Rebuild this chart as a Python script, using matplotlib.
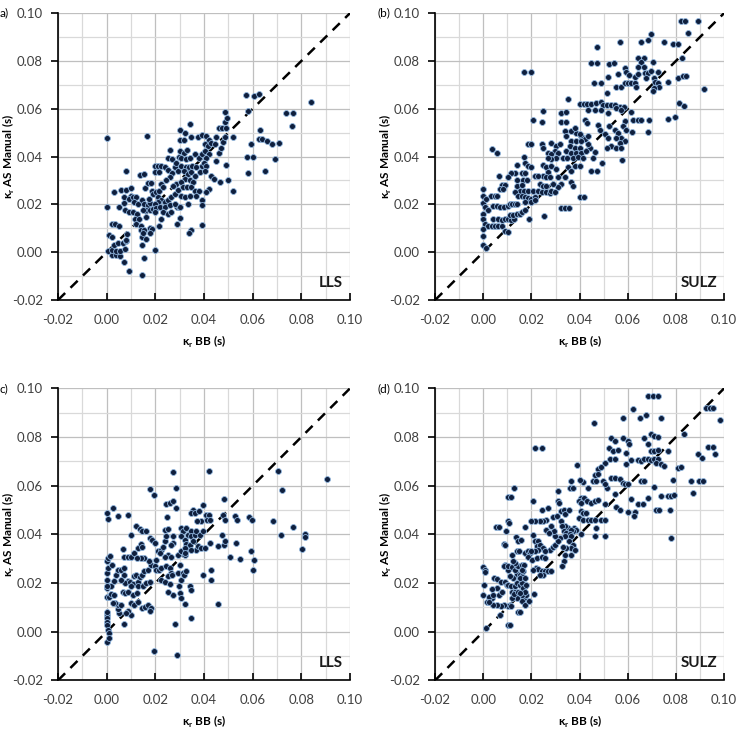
import matplotlib.pyplot as plt
from matplotlib.ticker import MultipleLocator

# kappa_r values: (BB, AS manual), seconds
lls_a = [
    (0.002, -0.001), (0.004, -0.001), (0.0056, -0.0014), (0.0073, -0.004), (0.009, -0.008),
    (0.0004, 0.0003), (0.002, 0.001), (0.004, 0.0006), (0.0055, 0.0007), (0.0076, 0.0012),
    (0.003, 0.003), (0.0045, 0.004), (0.0066, 0.004), (0.008, 0.0045), (0.0008, 0.0072),
    (0.0022, 0.0065), (0.002, 0.0117), (0.0036, 0.0117), (0.0052, 0.011), (0.0082, 0.0075),
    (0.008, 0.005), (0.0, 0.019), (0.0052, 0.0189), (0.0073, 0.0207), (0.0077, 0.0178),
    (0.0093, 0.0168), (0.003, 0.025), (0.006, 0.026), (0.008, 0.026), (0.007, 0.023),
    (0.0098, 0.0237), (0.009, 0.0224), (0.010, 0.027), (0.008, 0.034), (0.0, 0.0476),
    (0.011, 0.0233), (0.0121, 0.023), (0.0114, 0.021), (0.0128, 0.0203), (0.011, 0.0168),
    (0.0125, 0.016), (0.0117, 0.014), (0.0132, 0.0137), (0.012, 0.012), (0.0139, 0.011),
    (0.014, 0.0095), (0.0155, 0.0092), (0.0146, 0.0065), (0.016, 0.0055), (0.015, 0.0079),
    (0.0176, 0.01), (0.0187, 0.0097), (0.018, 0.008), (0.0144, 0.003), (0.0155, -0.0025),
    (0.0144, -0.0094), (0.0197, 0.001), (0.0138, 0.0324), (0.0153, 0.0327), (0.0158, 0.027),
    (0.017, 0.029), (0.0144, 0.0217), (0.0155, 0.0203), (0.017, 0.0196), (0.018, 0.0206),
    (0.016, 0.0175), (0.0176, 0.0175), (0.019, 0.018), (0.0149, 0.0178), (0.016, 0.0148),
    (0.0186, 0.0258), (0.0192, 0.0244), (0.0166, 0.0486), (0.0183, 0.0288), (0.0173, 0.0224),
    (0.0197, 0.036), (0.021, 0.036), (0.0224, 0.036), (0.0238, 0.0357), (0.0197, 0.0334),
    (0.0217, 0.0334), (0.025, 0.0396), (0.026, 0.0426), (0.0268, 0.0389), (0.025, 0.0344),
    (0.0268, 0.033), (0.026, 0.0313), (0.0245, 0.030), (0.0224, 0.0286), (0.0204, 0.0251),
    (0.0217, 0.0258), (0.023, 0.0272), (0.021, 0.023), (0.0224, 0.022), (0.0238, 0.021),
    (0.025, 0.022), (0.021, 0.021), (0.0197, 0.0203), (0.0204, 0.0186), (0.0221, 0.0189),
    (0.0238, 0.0189), (0.026, 0.0196), (0.02, 0.0168), (0.023, 0.0168), (0.025, 0.016),
    (0.0265, 0.0168), (0.0224, 0.014), (0.0213, 0.011), (0.0265, 0.023), (0.028, 0.0244),
    (0.0286, 0.0286), (0.0293, 0.026), (0.0272, 0.0279), (0.028, 0.0355), (0.0293, 0.034),
    (0.0286, 0.0375), (0.0296, 0.040), (0.0289, 0.0189), (0.0296, 0.0189), (0.028, 0.0203),
    (0.030, 0.051), (0.032, 0.050), (0.030, 0.047), (0.0318, 0.0468), (0.030, 0.0424),
    (0.0318, 0.0417), (0.0331, 0.0426), (0.0307, 0.0396), (0.0327, 0.0389), (0.0341, 0.0396),
    (0.0362, 0.041), (0.0378, 0.0396), (0.039, 0.041), (0.0307, 0.036), (0.0324, 0.0355),
    (0.0338, 0.0355), (0.0352, 0.036), (0.0368, 0.0355), (0.039, 0.0359), (0.0318, 0.034),
    (0.0334, 0.0327), (0.0348, 0.0334), (0.0362, 0.032), (0.0382, 0.0334), (0.032, 0.0306),
    (0.0341, 0.030), (0.0355, 0.0293), (0.0307, 0.0293), (0.0313, 0.0272), (0.033, 0.0272),
    (0.0348, 0.0272), (0.0362, 0.0258), (0.0378, 0.0258), (0.0304, 0.0237), (0.032, 0.023),
    (0.0341, 0.0237), (0.0334, 0.0203), (0.030, 0.0189), (0.0368, 0.0237), (0.039, 0.0217),
    (0.0393, 0.0196), (0.039, 0.0113), (0.0345, 0.0092), (0.034, 0.0079), (0.030, 0.0144),
    (0.029, 0.0117), (0.0375, 0.048), (0.0345, 0.048), (0.039, 0.049), (0.0342, 0.0537),
    (0.041, 0.0485), (0.042, 0.047), (0.0403, 0.0454), (0.0417, 0.0444), (0.043, 0.0458),
    (0.0444, 0.0454), (0.0403, 0.0424), (0.042, 0.041), (0.041, 0.0396), (0.040, 0.0375),
    (0.041, 0.036), (0.0403, 0.034), (0.045, 0.048), (0.046, 0.052), (0.0475, 0.052),
    (0.049, 0.052), (0.0488, 0.0545), (0.0496, 0.0562), (0.0488, 0.0587), (0.046, 0.0414),
    (0.045, 0.038), (0.049, 0.0366), (0.047, 0.0437), (0.048, 0.046), (0.0485, 0.048),
    (0.043, 0.032), (0.044, 0.0306), (0.042, 0.0265), (0.041, 0.025), (0.0467, 0.0295),
    (0.050, 0.030), (0.052, 0.048), (0.052, 0.0254), (0.0572, 0.0658), (0.0606, 0.0655),
    (0.0624, 0.066), (0.058, 0.059), (0.0839, 0.0628), (0.0736, 0.0582), (0.0766, 0.0582),
    (0.076, 0.053), (0.063, 0.051), (0.0625, 0.0475), (0.064, 0.0475), (0.066, 0.0467),
    (0.068, 0.0454), (0.071, 0.0457), (0.0595, 0.0454), (0.06, 0.040), (0.0575, 0.040),
    (0.069, 0.039), (0.065, 0.034), (0.058, 0.033),
]

sulz_b = [
    (0.0821, 0.0969), (0.0838, 0.0969), (0.089, 0.0969), (0.0849, 0.0918), (0.0697, 0.0914),
    (0.0566, 0.088), (0.0656, 0.088), (0.0683, 0.0886), (0.0752, 0.088), (0.0787, 0.087),
    (0.0807, 0.087), (0.0473, 0.0858), (0.0642, 0.0813), (0.0667, 0.0813), (0.0824, 0.0813),
    (0.0653, 0.0796), (0.0449, 0.0793), (0.0473, 0.0793), (0.0524, 0.0787), (0.0542, 0.0793),
    (0.0587, 0.0771), (0.0642, 0.0776), (0.0669, 0.0776), (0.0704, 0.0796), (0.017, 0.0755),
    (0.0197, 0.0755), (0.0593, 0.0755), (0.0607, 0.0741), (0.0559, 0.0744), (0.0518, 0.0731),
    (0.067, 0.0748), (0.0683, 0.0748), (0.0697, 0.0758), (0.0725, 0.0755), (0.0628, 0.0734),
    (0.0642, 0.0744), (0.0676, 0.0727), (0.0711, 0.0727), (0.0807, 0.073), (0.0828, 0.0738),
    (0.0842, 0.0738), (0.0766, 0.0711), (0.0915, 0.0682), (0.0714, 0.0713), (0.0725, 0.0707),
    (0.0731, 0.0693), (0.0711, 0.0686), (0.0704, 0.0676), (0.0552, 0.0693), (0.0573, 0.0693),
    (0.0587, 0.0707), (0.06, 0.0707), (0.0614, 0.0707), (0.0628, 0.0707), (0.0635, 0.0693),
    (0.046, 0.0707), (0.0487, 0.0707), (0.0515, 0.0665), (0.0352, 0.0642), (0.0248, 0.0592),
    (0.0207, 0.0552), (0.0244, 0.0545), (0.0324, 0.0582), (0.0345, 0.0585), (0.0324, 0.0545),
    (0.0345, 0.0545), (0.040, 0.062), (0.0418, 0.062), (0.0432, 0.062), (0.0449, 0.062),
    (0.047, 0.0624), (0.0487, 0.0628), (0.0497, 0.0617), (0.0515, 0.0614), (0.0531, 0.0614),
    (0.0548, 0.0614), (0.0566, 0.0607), (0.0584, 0.0607), (0.0614, 0.0585), (0.0435, 0.0593),
    (0.0462, 0.0593), (0.049, 0.0593), (0.0518, 0.0582), (0.0552, 0.0603), (0.0573, 0.0596),
    (0.0587, 0.0548), (0.0621, 0.0555), (0.0642, 0.0555), (0.0656, 0.0555), (0.069, 0.0555),
    (0.0766, 0.0559), (0.0796, 0.0564), (0.0814, 0.0624), (0.0835, 0.061), (0.0421, 0.0555),
    (0.0432, 0.0541), (0.0476, 0.0534), (0.0483, 0.0513), (0.0504, 0.0493), (0.0518, 0.0479),
    (0.0524, 0.0527), (0.0545, 0.0513), (0.0559, 0.05), (0.058, 0.0527), (0.0593, 0.0513),
    (0.0573, 0.0479), (0.0587, 0.0465), (0.0552, 0.0479), (0.0566, 0.0458), (0.0531, 0.0444),
    (0.0552, 0.0437), (0.0573, 0.0437), (0.0515, 0.0437), (0.0618, 0.0502), (0.0683, 0.0502),
    (0.0575, 0.0386), (0.0493, 0.0373), (0.0449, 0.0341), (0.0473, 0.0341), (0.0455, 0.0396),
    (0.0462, 0.0421), (0.0442, 0.0437), (0.0435, 0.0451), (0.0407, 0.0486), (0.0421, 0.0472),
    (0.0435, 0.0486), (0.0386, 0.05), (0.04, 0.0493), (0.0366, 0.0506), (0.038, 0.052),
    (0.0338, 0.0506), (0.0345, 0.0486), (0.0366, 0.0465), (0.0386, 0.0465), (0.0407, 0.0465),
    (0.0359, 0.0444), (0.038, 0.0437), (0.04, 0.0437), (0.0345, 0.0424), (0.0366, 0.0417),
    (0.0386, 0.0417), (0.0407, 0.0417), (0.0428, 0.0424), (0.0331, 0.0396), (0.0349, 0.0396),
    (0.0373, 0.0396), (0.0393, 0.0399), (0.0414, 0.0396), (0.038, 0.0362), (0.04, 0.0362),
    (0.0352, 0.0355), (0.0366, 0.0341), (0.0338, 0.0313), (0.0366, 0.0293), (0.0373, 0.0279),
    (0.0324, 0.0286), (0.031, 0.0272), (0.040, 0.023), (0.0418, 0.023), (0.0324, 0.0185),
    (0.0338, 0.0185), (0.0355, 0.0185), (0.0253, 0.0152), (0.019, 0.0141), (0.0283, 0.0458),
    (0.0304, 0.0444), (0.0317, 0.0451), (0.0297, 0.0424), (0.031, 0.0417), (0.0269, 0.0417),
    (0.0283, 0.041), (0.0304, 0.0396), (0.0283, 0.0389), (0.0269, 0.0396), (0.0242, 0.0451),
    (0.0248, 0.0437), (0.0186, 0.0454), (0.02, 0.0454), (0.017, 0.040), (0.0173, 0.0375),
    (0.0186, 0.0362), (0.0197, 0.0357), (0.0138, 0.0364), (0.0248, 0.0366), (0.0262, 0.0355),
    (0.0283, 0.0362), (0.03, 0.0348), (0.0269, 0.0334), (0.0248, 0.032), (0.0262, 0.0313),
    (0.0276, 0.0313), (0.0214, 0.032), (0.0228, 0.032), (0.0159, 0.033), (0.0173, 0.033),
    (0.0131, 0.033), (0.0117, 0.033), (0.0104, 0.0313), (0.0065, 0.032), (0.0035, 0.043),
    (0.0055, 0.0413), (0.0079, 0.0283), (0.009, 0.0283), (0.0069, 0.0265), (0.0083, 0.0265),
    (0.0138, 0.0302), (0.0166, 0.0302), (0.018, 0.0302), (0.0142, 0.0279), (0.0159, 0.0283),
    (0.0152, 0.0258), (0.017, 0.0258), (0.0186, 0.0258), (0.0131, 0.0251), (0.0145, 0.0237),
    (0.0161, 0.0237), (0.0173, 0.023), (0.0186, 0.0228), (0.02, 0.0224), (0.0214, 0.023),
    (0.0173, 0.021), (0.02, 0.021), (0.0214, 0.0217), (0.0207, 0.0258), (0.0228, 0.0258),
    (0.0235, 0.0286), (0.0248, 0.0279), (0.0262, 0.0279), (0.0242, 0.0251), (0.0262, 0.0251),
    (0.0276, 0.0247), (0.029, 0.0286), (0.0283, 0.0258), (0.0297, 0.0251), (0.031, 0.0313),
    (0.0, 0.0265), (0.0, 0.0237), (0.0, 0.0206), (0.0007, 0.0189), (0.0018, 0.0178),
    (0.0032, 0.0237), (0.0048, 0.0237), (0.0059, 0.0237), (0.0041, 0.0192), (0.0055, 0.0192),
    (0.0069, 0.0189), (0.0087, 0.0189), (0.0101, 0.0192), (0.011, 0.0203), (0.012, 0.0203),
    (0.0131, 0.0203), (0.0142, 0.02), (0.001, 0.0224), (0.0, 0.0159), (0.0, 0.0137),
    (0.0007, 0.012), (0.0021, 0.0109), (0.0035, 0.0109), (0.0048, 0.0109), (0.0062, 0.0109),
    (0.0076, 0.0109), (0.0041, 0.0137), (0.0062, 0.0137), (0.0076, 0.0134), (0.009, 0.0137),
    (0.0104, 0.0137), (0.0115, 0.0134), (0.0128, 0.0137), (0.011, 0.0155), (0.0124, 0.0155),
    (0.0138, 0.0159), (0.0152, 0.0159), (0.0159, 0.0168), (0.0173, 0.0178), (0.0092, 0.009),
    (0.0101, 0.0086), (0.0, 0.0099), (0.0, 0.0068), (0.0, 0.003), (0.0011, 0.0017),
]

lls_c = [
    (0.0272, 0.0656), (0.0421, 0.066), (0.0703, 0.066), (0.0906, 0.0627), (0.0179, 0.0586),
    (0.0193, 0.0561), (0.0286, 0.0591), (0.0719, 0.0582), (0.0481, 0.0547), (0.0027, 0.0509),
    (0.0, 0.0488), (0.0004, 0.0463), (0.0045, 0.0474), (0.0089, 0.0479), (0.0245, 0.0523),
    (0.0259, 0.0529), (0.0272, 0.0536), (0.0286, 0.0509), (0.0249, 0.047), (0.0355, 0.0502),
    (0.0348, 0.0488), (0.0362, 0.0488), (0.0378, 0.0495), (0.0396, 0.052), (0.0407, 0.0481),
    (0.0421, 0.0479), (0.0414, 0.0461), (0.0426, 0.0457), (0.0389, 0.0454), (0.0373, 0.0454),
    (0.048, 0.0479), (0.0488, 0.0461), (0.0527, 0.0477), (0.0534, 0.0457), (0.0584, 0.047),
    (0.0598, 0.0457), (0.0682, 0.0454), (0.0767, 0.043), (0.0716, 0.0396), (0.0813, 0.0403),
    (0.0815, 0.0389), (0.0803, 0.0341), (0.0595, 0.033), (0.0604, 0.0296), (0.0601, 0.0254),
    (0.0505, 0.0305), (0.0549, 0.0298), (0.0532, 0.0364), (0.0483, 0.0357), (0.0485, 0.0371),
    (0.0458, 0.0353), (0.0472, 0.0399), (0.0425, 0.0364), (0.0396, 0.0234), (0.043, 0.0252),
    (0.043, 0.0213), (0.0458, 0.0114), (0.0345, 0.0055), (0.0279, 0.0032), (0.029, -0.0094),
    (0.0194, -0.008), (0.0, 0.0069), (0.0, 0.0055), (0.0, 0.0041), (0.0, 0.0028),
    (0.0004, 0.0007), (0.0008, -0.0007), (0.0, -0.0041), (0.0011, -0.0027), (0.0, 0.008),
    (0.0, 0.0144), (0.0011, 0.0144), (0.0018, 0.0155), (0.0032, 0.0151), (0.0, 0.0179),
    (0.0011, 0.0189), (0.0, 0.0213), (0.0, 0.024), (0.0004, 0.026), (0.0, 0.0289),
    (0.0004, 0.0303), (0.0018, 0.0186), (0.0, 0.0186), (0.0014, 0.0313), (0.002, 0.0275),
    (0.0039, 0.0234), (0.0032, 0.0209), (0.007, 0.003), (0.0098, 0.0069), (0.0089, 0.0083),
    (0.008, 0.0078), (0.0052, 0.0078), (0.0048, 0.0094), (0.0045, 0.011), (0.0059, 0.011),
    (0.0036, 0.0117), (0.0025, 0.0117), (0.0045, 0.0254), (0.0059, 0.0254), (0.0073, 0.0261),
    (0.007, 0.0231), (0.0087, 0.0209), (0.0076, 0.0199), (0.0059, 0.0213), (0.0066, 0.0165),
    (0.0076, 0.0158), (0.0087, 0.0165), (0.0094, 0.0206), (0.0107, 0.0195), (0.0114, 0.0227),
    (0.0121, 0.0234), (0.0128, 0.0206), (0.0128, 0.0186), (0.01, 0.0186), (0.0107, 0.0151),
    (0.0125, 0.0158), (0.01, 0.0117), (0.0114, 0.011), (0.0128, 0.0124), (0.0144, 0.0099),
    (0.0158, 0.0103), (0.0169, 0.011), (0.0183, 0.0099), (0.0179, 0.0085), (0.0149, 0.0188),
    (0.0162, 0.0199), (0.0176, 0.0206), (0.0135, 0.0223), (0.0144, 0.0234), (0.0155, 0.0248),
    (0.0169, 0.0254), (0.0183, 0.0275), (0.0173, 0.0289), (0.0073, 0.0309), (0.0087, 0.0305),
    (0.01, 0.0309), (0.0114, 0.0323), (0.0128, 0.0344), (0.0139, 0.036), (0.0144, 0.0347),
    (0.0155, 0.0303), (0.0139, 0.0303), (0.0125, 0.0303), (0.0069, 0.034), (0.0098, 0.0399),
    (0.0121, 0.0436), (0.0135, 0.0422), (0.0144, 0.0413), (0.0161, 0.0413), (0.018, 0.0385),
    (0.0187, 0.0378), (0.0197, 0.0364), (0.021, 0.033), (0.0224, 0.0337), (0.0231, 0.0348),
    (0.0238, 0.0371), (0.0245, 0.0392), (0.0238, 0.0419), (0.0252, 0.0424), (0.0272, 0.0392),
    (0.0272, 0.0364), (0.0263, 0.0357), (0.0252, 0.0316), (0.0265, 0.0305), (0.0238, 0.0309),
    (0.0221, 0.0323), (0.0204, 0.0296), (0.0197, 0.0268), (0.0201, 0.0254), (0.0217, 0.0254),
    (0.0224, 0.0261), (0.0245, 0.0268), (0.0259, 0.0261), (0.0263, 0.0241), (0.0252, 0.0227),
    (0.0268, 0.0234), (0.0224, 0.0213), (0.0238, 0.0206), (0.0259, 0.0195), (0.0272, 0.0151),
    (0.0252, 0.0165), (0.0293, 0.0241), (0.03, 0.0275), (0.0293, 0.0316), (0.0307, 0.033),
    (0.032, 0.0316), (0.0327, 0.0337), (0.0314, 0.0241), (0.0304, 0.0213), (0.0318, 0.0234),
    (0.0327, 0.0248), (0.03, 0.0158), (0.0307, 0.0138), (0.032, 0.0113), (0.0341, 0.0186),
    (0.0345, 0.0172), (0.0296, 0.0186), (0.0307, 0.0426), (0.0314, 0.0413), (0.0327, 0.0426),
    (0.0334, 0.0399), (0.0348, 0.0413), (0.0348, 0.0392), (0.0362, 0.0399), (0.0369, 0.0413),
    (0.0382, 0.0399), (0.0396, 0.0413), (0.0307, 0.0392), (0.032, 0.0378), (0.0327, 0.036),
    (0.0341, 0.0358), (0.0355, 0.0371), (0.0369, 0.0337), (0.0375, 0.0351), (0.0389, 0.0344),
    (0.0403, 0.0344), (0.0348, 0.0337), (0.032, 0.0344), (0.032, 0.0323),
]

sulz_d = [
    (0.0683, 0.0969), (0.0704, 0.0969), (0.0725, 0.0969), (0.0621, 0.0914), (0.0925, 0.0918),
    (0.0943, 0.0918), (0.0956, 0.0918), (0.0984, 0.0869), (0.058, 0.088), (0.0649, 0.088),
    (0.0676, 0.089), (0.0736, 0.088), (0.046, 0.0859), (0.0835, 0.0811), (0.0697, 0.0814),
    (0.0708, 0.0804), (0.0531, 0.0795), (0.0545, 0.0784), (0.058, 0.0798), (0.06, 0.0784),
    (0.0607, 0.0773), (0.0669, 0.0798), (0.0683, 0.0773), (0.0725, 0.08), (0.0214, 0.0756),
    (0.0242, 0.0756), (0.0524, 0.0756), (0.0538, 0.0743), (0.0559, 0.0745), (0.0593, 0.0736),
    (0.0697, 0.0743), (0.0711, 0.0743), (0.0725, 0.0745), (0.0766, 0.0743), (0.089, 0.0729),
    (0.0908, 0.0712), (0.0932, 0.0759), (0.0956, 0.0759), (0.0962, 0.0729), (0.0528, 0.0708),
    (0.0545, 0.0708), (0.0614, 0.0704), (0.0642, 0.0704), (0.0656, 0.0701), (0.0669, 0.0708),
    (0.0683, 0.0708), (0.0697, 0.0704), (0.0711, 0.0708), (0.0725, 0.0708), (0.0718, 0.0694),
    (0.0738, 0.069), (0.0752, 0.0681), (0.0593, 0.0688), (0.0807, 0.0674), (0.0821, 0.0677),
    (0.0504, 0.0694), (0.0389, 0.0683), (0.0476, 0.067), (0.0487, 0.0677), (0.0466, 0.0646),
    (0.0476, 0.0649), (0.0531, 0.063), (0.0545, 0.063), (0.0566, 0.0626), (0.058, 0.0612),
    (0.0587, 0.0605), (0.06, 0.0608), (0.0653, 0.0619), (0.0669, 0.0619), (0.0787, 0.0622),
    (0.0862, 0.0619), (0.0897, 0.0619), (0.0911, 0.0619), (0.0869, 0.0568), (0.0766, 0.0557),
    (0.078, 0.0557), (0.0793, 0.056), (0.0738, 0.0557), (0.0683, 0.055), (0.0708, 0.0594),
    (0.0777, 0.0502), (0.078, 0.0385), (0.0718, 0.0502), (0.0729, 0.0502), (0.06, 0.0491),
    (0.0628, 0.0491), (0.0625, 0.0477), (0.0642, 0.0523), (0.0662, 0.0523), (0.0614, 0.0546),
    (0.0552, 0.0512), (0.0566, 0.0502), (0.0545, 0.0567), (0.0515, 0.0591), (0.0497, 0.0619),
    (0.0504, 0.0605), (0.0455, 0.0619), (0.0469, 0.0619), (0.0414, 0.0615), (0.04, 0.0623),
    (0.0366, 0.0619), (0.0359, 0.0589), (0.0373, 0.0589), (0.031, 0.058), (0.0435, 0.0589),
    (0.0404, 0.055), (0.0418, 0.055), (0.0396, 0.0536), (0.0407, 0.0529), (0.0432, 0.0536),
    (0.0446, 0.0529), (0.0462, 0.0536), (0.0476, 0.0543), (0.0504, 0.0523), (0.0407, 0.0498),
    (0.0414, 0.0488), (0.0428, 0.0488), (0.0397, 0.0468), (0.0414, 0.0461), (0.0435, 0.0461),
    (0.0449, 0.0461), (0.0465, 0.0461), (0.0487, 0.0461), (0.0504, 0.0461), (0.0469, 0.0426),
    (0.0465, 0.0392), (0.0504, 0.0392), (0.0407, 0.0402), (0.0377, 0.0426), (0.0386, 0.0419),
    (0.0373, 0.0413), (0.0352, 0.0426), (0.0366, 0.0419), (0.0338, 0.0433), (0.0324, 0.0454),
    (0.0328, 0.0433), (0.0335, 0.0415), (0.0345, 0.0406), (0.0359, 0.0402), (0.0366, 0.0392),
    (0.0338, 0.0392), (0.0317, 0.0385), (0.0355, 0.0371), (0.0373, 0.0358), (0.0366, 0.0344),
    (0.038, 0.0337), (0.0345, 0.0344), (0.0331, 0.0347), (0.0338, 0.0316), (0.0366, 0.0316),
    (0.0335, 0.0289), (0.0327, 0.0268), (0.0276, 0.0337), (0.029, 0.0347), (0.0297, 0.0358),
    (0.031, 0.0371), (0.0297, 0.0392), (0.0294, 0.0415), (0.0283, 0.0433), (0.0262, 0.0419),
    (0.0272, 0.0406), (0.0259, 0.0457), (0.0248, 0.0454), (0.0235, 0.0454), (0.0214, 0.0454),
    (0.02, 0.0454), (0.0242, 0.0502), (0.0269, 0.0509), (0.029, 0.047), (0.0308, 0.0474),
    (0.0324, 0.0495), (0.0335, 0.0502), (0.0338, 0.0484), (0.0356, 0.0502), (0.031, 0.0539),
    (0.0313, 0.0529), (0.0207, 0.0539), (0.0104, 0.0553), (0.0117, 0.0553), (0.0127, 0.0591),
    (0.0051, 0.0429), (0.0065, 0.0429), (0.0094, 0.0415), (0.0101, 0.0454), (0.0106, 0.0447),
    (0.0086, 0.036), (0.009, 0.0355), (0.0134, 0.0388), (0.0145, 0.0374), (0.0156, 0.0378),
    (0.0173, 0.0429), (0.0121, 0.0316), (0.0138, 0.0333), (0.0149, 0.033), (0.0173, 0.0323),
    (0.0184, 0.033), (0.0193, 0.0323), (0.0207, 0.0399), (0.0214, 0.0371), (0.0228, 0.0371),
    (0.0221, 0.0351), (0.0235, 0.0358), (0.0248, 0.0344), (0.0258, 0.0333), (0.0228, 0.0337),
    (0.0214, 0.033), (0.02, 0.033), (0.0186, 0.0309), (0.0203, 0.0296), (0.0225, 0.0303),
    (0.0242, 0.0309), (0.0255, 0.0303), (0.0217, 0.0261), (0.0228, 0.0257), (0.0242, 0.025),
    (0.0255, 0.0248), (0.0269, 0.0248), (0.0283, 0.0248), (0.0248, 0.0231), (0.0235, 0.0234),
    (0.0207, 0.0254), (0.0211, 0.0154), (0.017, 0.0138), (0.0159, 0.0127), (0.0173, 0.011),
    (0.0189, 0.0127), (0.0179, 0.0151), (0.0159, 0.0149), (0.0138, 0.0138), (0.012, 0.0138),
    (0.011, 0.011), (0.0101, 0.0107), (0.0115, 0.0107), (0.0069, 0.0069), (0.0104, 0.0028),
    (0.011, 0.0028), (0.0145, 0.008), (0.0152, 0.008), (0.0086, 0.011), (0.0073, 0.0107),
    (0.0059, 0.011), (0.0041, 0.011), (0.0035, 0.0138), (0.0025, 0.0144), (0.0014, 0.0124),
    (0.0, 0.0151), (0.0004, 0.0193), (0.0, 0.0264), (0.0007, 0.0254), (0.0007, 0.0245),
    (0.0046, 0.022), (0.0059, 0.0216), (0.0073, 0.0206), (0.009, 0.0206), (0.0097, 0.0193),
    (0.0104, 0.0193), (0.0117, 0.0186), (0.0131, 0.0186), (0.0142, 0.0199), (0.0152, 0.0193),
    (0.0161, 0.0199), (0.0145, 0.0227), (0.0138, 0.0237), (0.0152, 0.0234), (0.0159, 0.0227),
    (0.0124, 0.022), (0.011, 0.0227), (0.0101, 0.0254), (0.009, 0.0275), (0.0087, 0.0268),
    (0.0104, 0.0268), (0.012, 0.0264), (0.0131, 0.0254), (0.0138, 0.0268), (0.0145, 0.0268),
    (0.0159, 0.0275), (0.0168, 0.0275), (0.0131, 0.0282), (0.0124, 0.0291), (0.0152, 0.022),
    (0.0166, 0.0179), (0.0173, 0.0165), (0.0179, 0.0193), (0.0173, 0.022), (0.0166, 0.0248),
    (0.0159, 0.0254), (0.012, 0.0165), (0.0131, 0.0165), (0.0128, 0.0154), (0.0145, 0.0165),
    (0.0152, 0.0158), (0.0055, 0.0179), (0.0035, 0.0176), (0.0025, 0.0124), (0.0011, 0.0014),
    (0.0041, 0.0149), (0.0065, 0.0149), (0.0079, 0.0165),
]

panels = [
    ("a)", "LLS", lls_a),
    ("(b)", "SULZ", sulz_b),
    ("c)", "LLS", lls_c),
    ("(d)", "SULZ", sulz_d),
]

plt.rcParams['font.family'] = ['Lato', 'DejaVu Sans']
plt.rcParams['mathtext.fontset'] = 'custom'
plt.rcParams['mathtext.bf'] = 'Lato:bold'

fig = plt.figure(figsize=(7.4, 7.3), dpi=100)

# axes boxes in figure fractions (left, bottom, width, height)
boxes = [
    (0.0784, 0.589, 0.3946, 0.393),
    (0.588, 0.589, 0.3905, 0.393),
    (0.0784, 0.068, 0.3946, 0.400),
    (0.588, 0.068, 0.3905, 0.400),
]

for (letter, name, pts), box in zip(panels, boxes):
    ax = fig.add_axes(box)
    xs = [p[0] for p in pts]
    ys = [p[1] for p in pts]

    ax.set_xlim(-0.02, 0.10)
    ax.set_ylim(-0.02, 0.10)
    ax.xaxis.set_major_locator(MultipleLocator(0.02))
    ax.yaxis.set_major_locator(MultipleLocator(0.02))
    ax.xaxis.set_minor_locator(MultipleLocator(0.01))
    ax.yaxis.set_minor_locator(MultipleLocator(0.01))
    ax.xaxis.set_major_formatter(lambda v, pos: f"{v:.2f}")
    ax.yaxis.set_major_formatter(lambda v, pos: f"{v:.2f}")

    ax.grid(which='major', color='#bfbfbf', linewidth=0.9)
    ax.grid(which='minor', color='#d9d9d9', linewidth=0.9)
    ax.set_axisbelow(True)

    for side in ('top', 'right'):
        ax.spines[side].set_visible(False)
    for side in ('left', 'bottom'):
        ax.spines[side].set_color('black')
        ax.spines[side].set_linewidth(1.2)

    ax.tick_params(axis='x', which='major', direction='in', length=5, width=1.2,
                   labelsize=9.5, pad=10, colors='black', labelcolor='#404040')
    ax.tick_params(axis='y', which='major', direction='out', length=5, width=1.2,
                   labelsize=9.5, pad=6, colors='black', labelcolor='#404040')
    ax.tick_params(which='minor', length=0)

    # 1:1 line
    ax.plot([-0.02, 0.10], [-0.02, 0.10], color='black', linestyle=(0, (4, 3)),
            linewidth=1.8, zorder=2)
    ax.scatter(xs, ys, s=18, color='#0f1f3d', edgecolors='#8fb4dc', linewidths=0.6,
               zorder=3, clip_on=False)

    ax.set_xlabel(r'κ$_\mathbf{r}$ BB (s)', fontsize=8.5, fontweight='bold', va='center')
    ax.set_ylabel(r'κ$_\mathbf{r}$ AS Manual (s)', fontsize=8.5, fontweight='bold', va='center')
    ax.xaxis.set_label_coords(0.5, -42 / (box[3] * 730))
    ax.yaxis.set_label_coords(-49 / (box[2] * 740), 0.5)

    ax.text(0.975, 0.035, name, transform=ax.transAxes, ha='right', va='bottom',
            fontsize=11, fontweight='bold', color='#1a1a1a')
    ax.text(-0.198 if letter.startswith('(') else -0.2, 1.0, letter, transform=ax.transAxes,
            ha='left', va='center', fontsize=8.5)

fig.savefig('out.png', dpi=100)
